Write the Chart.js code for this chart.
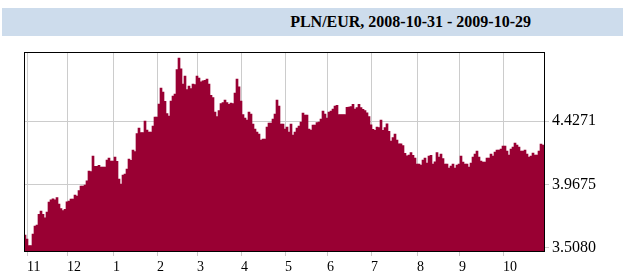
<!DOCTYPE html>
<html><head><meta charset="utf-8">
<script src="https://cdn.jsdelivr.net/npm/chart.js@4.4.0/dist/chart.umd.min.js"></script>
<style>
html,body{margin:0;padding:0;background:#fff;}
#wrap{position:relative;width:623px;height:278px;overflow:hidden;}
#title{position:absolute;left:2px;top:8px;width:621px;height:28px;background:#cddcec;}
#title span{position:absolute;right:92px;top:5px;font:bold 16px "Liberation Serif",serif;color:#000;white-space:nowrap;}
canvas{position:absolute;left:0;top:0;}
</style></head><body>
<div id="wrap"><div id="title"><span>PLN/EUR, 2008-10-31 - 2009-10-29</span></div><canvas id="c" width="623" height="278"></canvas></div>
<script>
const titleText = 'PLN/EUR, 2008-10-31 - 2009-10-29';
const firstDay = '2008-10-31';
const lastDay = '2009-10-29';
const rates = [
3.5982,3.5691,3.5203,3.5203,3.6055,3.6638,3.6711,3.7490,3.7730,3.7490,
3.7242,3.7657,3.8386,3.8553,3.8626,3.8553,3.8699,3.8240,3.7898,3.7752,
3.7854,3.8407,3.8459,3.8604,3.8604,3.8896,3.8823,3.9209,3.9551,3.9551,
3.9624,3.9937,4.0644,4.0593,4.1736,4.0986,4.0986,4.1059,4.0935,4.0935,
4.0935,4.1445,4.1591,4.1372,4.1372,4.1664,4.1350,4.0060,3.9697,4.0353,
4.0425,4.0790,4.1518,4.1424,4.2174,4.2050,4.3361,4.3776,4.3434,4.3434,
4.4286,4.3631,4.3485,4.3485,4.3922,4.4578,4.4578,4.5525,4.6690,4.6398,
4.5721,4.4818,4.4650,4.5743,4.6107,4.6253,4.8023,4.8875,4.8095,4.6981,
4.7563,4.6566,4.6835,4.6639,4.6981,4.6930,4.7563,4.7418,4.7148,4.7221,
4.7250,4.7345,4.6981,4.6158,4.5983,4.4941,4.4599,4.5036,4.5546,4.5619,
4.5815,4.5619,4.5502,4.5597,4.5546,4.6325,4.7345,4.6784,4.5743,4.4745,
4.4504,4.4359,4.4941,4.4796,4.4067,4.3703,4.3485,4.3339,4.2902,4.2975,
4.2975,4.3849,4.4140,4.4140,4.4432,4.4796,4.5815,4.5379,4.4067,4.4067,
4.3703,4.3849,4.3485,4.4067,4.3266,4.3485,4.3776,4.3922,4.4213,4.4868,
4.4723,4.4723,4.3703,4.3631,4.3995,4.3995,4.4162,4.4213,4.4432,4.5014,
4.4796,4.4504,4.4941,4.5014,4.5160,4.5379,4.5430,4.4745,4.4745,4.4745,
4.4745,4.5284,4.5306,4.5328,4.5502,4.5160,4.5255,4.5502,4.5255,4.5138,
4.5036,4.4890,4.4599,4.4016,4.3681,4.3608,4.3849,4.3798,4.4359,4.3608,
4.3798,4.4089,4.3536,4.2829,4.3070,4.3339,4.2902,4.2632,4.2632,4.2487,
4.1933,4.1758,4.1809,4.1977,4.1787,4.1591,4.1154,4.1154,4.1081,4.1445,
4.1591,4.1227,4.1737,4.1787,4.1154,4.1321,4.1977,4.1660,4.1882,4.1540,
4.1154,4.1154,4.0862,4.1008,4.1154,4.0862,4.1081,4.1154,4.1737,4.1300,
4.1154,4.1154,4.0935,4.1227,4.1664,4.1882,4.2101,4.1664,4.1372,4.1300,
4.1300,4.1591,4.1591,4.1882,4.1737,4.2028,4.2174,4.2174,4.2246,4.2465,
4.2465,4.2101,4.1809,4.2246,4.2392,4.2683,4.2538,4.2392,4.2101,4.2101,
4.2174,4.1882,4.1664,4.1737,4.1955,4.1809,4.1809,4.2101,4.2610,4.2538
];
const yTickValues = [3.5080, 3.9675, 4.4271];
const monthTickLabels = ['11','12','1','2','3','4','5','6','7','8','9','10'];
const yMin = 3.4744, yMax = 4.9312;

// trading days (Mon-Fri) between the two dates
const dates = [];
for (let d = new Date(firstDay + 'T12:00:00Z'); d <= new Date(lastDay + 'T12:00:00Z'); d.setUTCDate(d.getUTCDate() + 1)) {
  const wd = d.getUTCDay();
  if (wd !== 0 && wd !== 6) dates.push(d.toISOString().slice(0, 10));
}
const monthStarts = [];
for (let i = 1; i < dates.length; i++) {
  if (dates[i].slice(5, 7) !== dates[i - 1].slice(5, 7)) monthStarts.push(i);
}

const framePlugin = {
  id: 'frame',
  afterDatasetsDraw(chart) {
    const a = chart.chartArea, ctx = chart.ctx;
    ctx.save();
    ctx.strokeStyle = '#000';
    ctx.lineWidth = 1;
    ctx.strokeRect(a.left + 0.5, a.top + 0.5, a.right - a.left, a.bottom - a.top - 1);
    ctx.restore();
  }
};

new Chart(document.getElementById('c'), {
  type: 'bar',
  data: {
    labels: dates,
    datasets: [{
      data: rates,
      backgroundColor: '#990033',
      borderWidth: 0,
      barPercentage: 1,
      categoryPercentage: 1
    }]
  },
  options: {
    responsive: false,
    animation: false,
    layout: { padding: { left: 24, top: 52, right: 0, bottom: 0 } },
    plugins: { legend: { display: false }, tooltip: { enabled: false }, title: { display: false } },
    scales: {
      x: {
        offset: true,
        grid: { offset: false, color: '#cccccc', lineWidth: 1, tickLength: 4 },
        border: { display: false },
        afterBuildTicks(scale) { scale.ticks = monthStarts.map(v => ({ value: v })); },
        afterFit(scale) { scale.height = 26; },
        ticks: {
          autoSkip: false, maxRotation: 0, align: 'start', padding: 3,
          color: '#000', font: { family: '"Liberation Serif", serif', size: 14 },
          callback: (v, i) => monthTickLabels[i]
        }
      },
      y: {
        position: 'right',
        min: yMin, max: yMax,
        grid: { color: '#cccccc', lineWidth: 1, tickLength: 5 },
        border: { display: false },
        afterBuildTicks(scale) { scale.ticks = yTickValues.map(v => ({ value: v })); },
        afterFit(scale) { scale.width = 79; },
        ticks: {
          padding: 3, color: '#000', font: { family: '"Liberation Serif", serif', size: 16 },
          callback: v => Number(v).toFixed(4)
        }
      }
    }
  },
  plugins: [framePlugin]
});
</script>
</body></html>
